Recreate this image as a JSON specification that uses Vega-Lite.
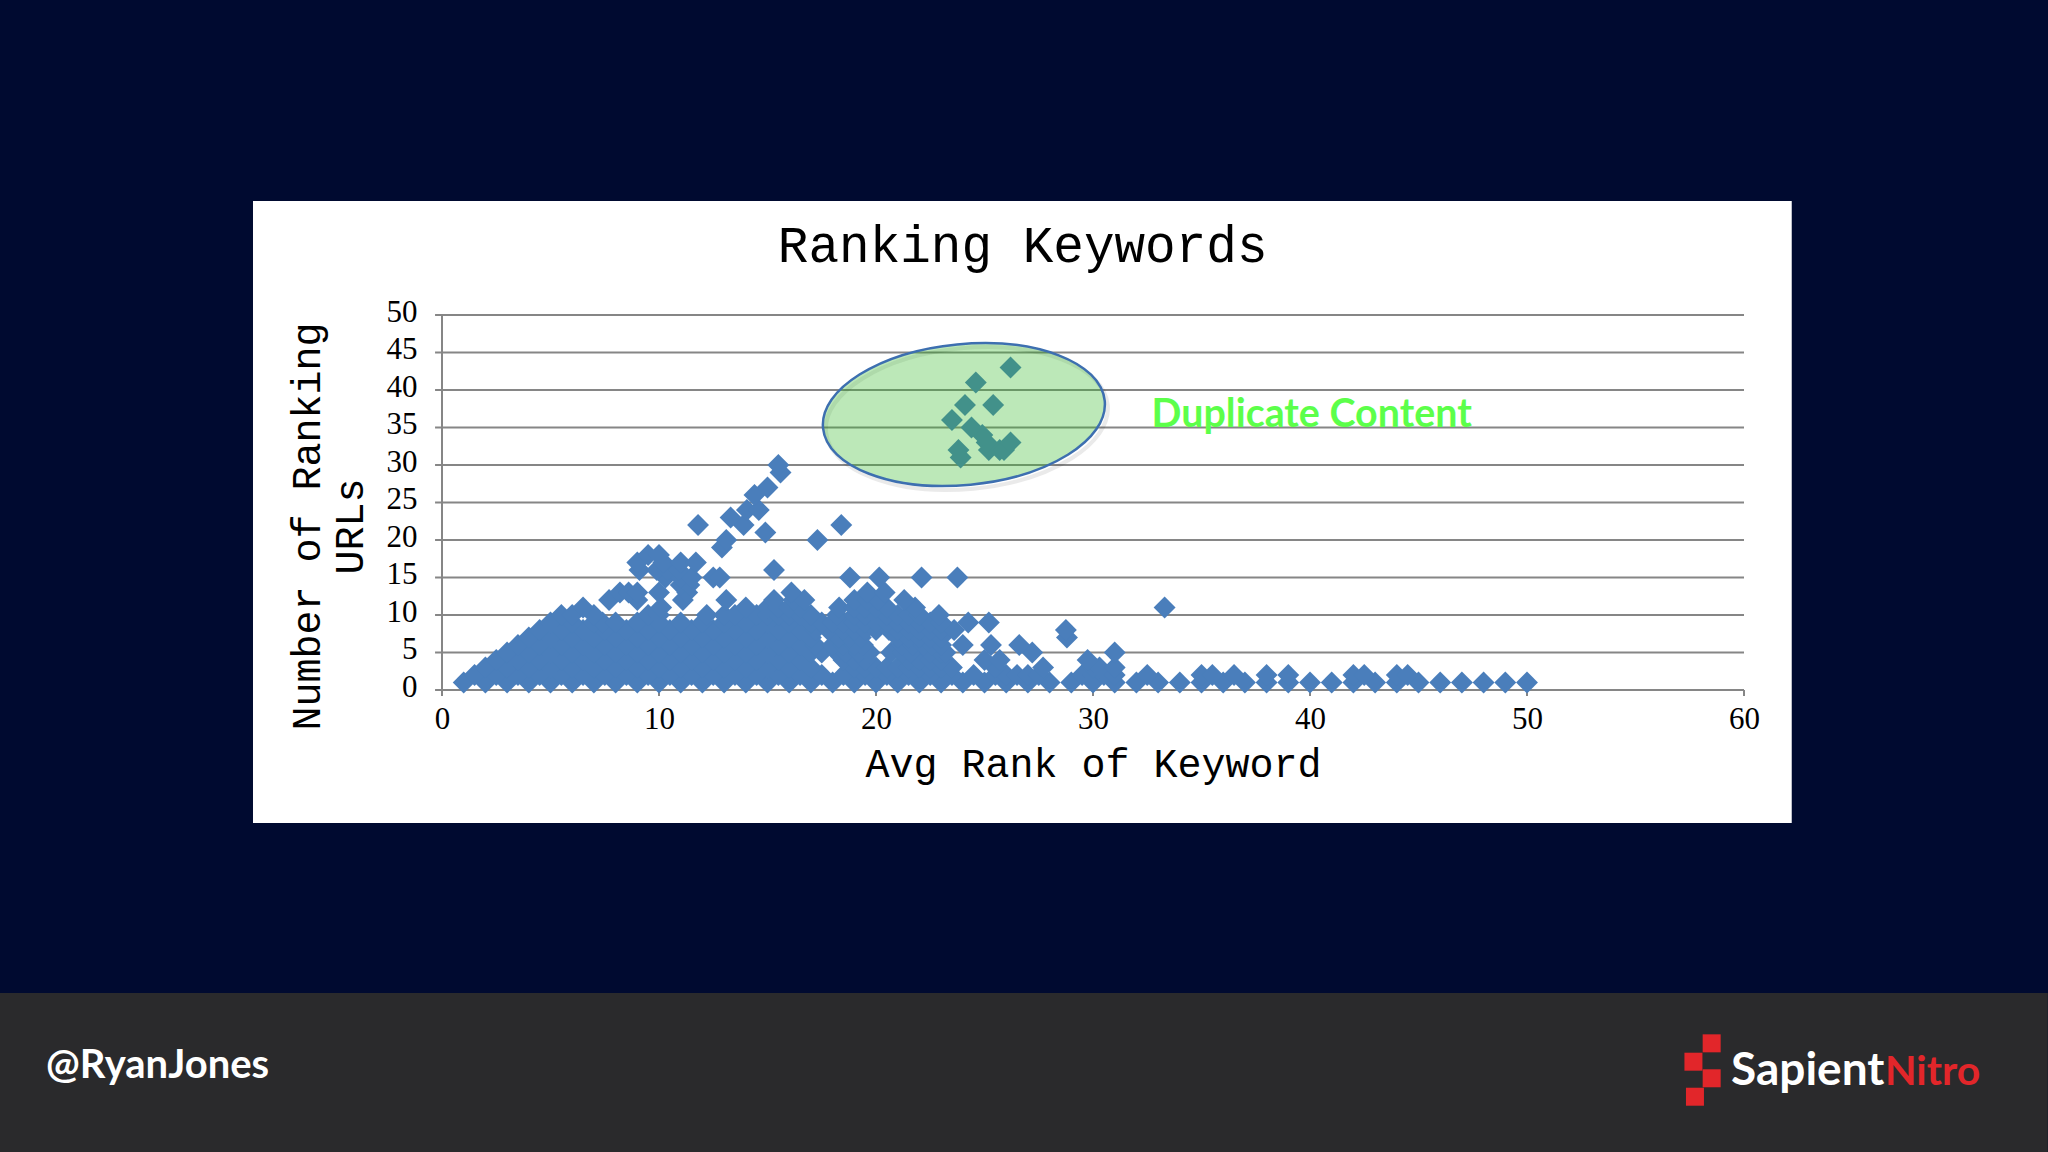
{"$schema":"https://vega.github.io/schema/vega-lite/v6.json","autosize":"none","width":1302,"height":375,"padding":{"left":442,"top":315,"right":304,"bottom":462},"background":"#000a30","view":{"stroke":null},
"encoding":{"x":{"field":"x","type":"quantitative","scale":{"domain":[0,60],"nice":false,"zero":false},"axis":{"values":[0,10,20,30,40,50,60],"grid":false,"domain":false,"ticks":false,"labelFlush":false,"labelFont":"Liberation Serif","labelFontSize":31,"labelColor":"#000000","labelPadding":14,"title":"Avg Rank of Keyword","titleFont":"Liberation Mono","titleFontSize":40,"titleFontWeight":"normal","titleColor":"#000000","titlePadding":10,"zindex":1}},"y":{"field":"y","type":"quantitative","scale":{"domain":[0,50],"nice":false,"zero":false},"axis":{"values":[0,5,10,15,20,25,30,35,40,45,50],"grid":false,"domain":false,"ticks":false,"labelFlush":false,"labelFont":"Liberation Serif","labelFontSize":31,"labelColor":"#000000","labelPadding":25,"labelOffset":-3,"title":["Number of Ranking","URLs"],"titleFont":"Liberation Mono","titleFontSize":40,"titleFontWeight":"normal","titleColor":"#000000","titleLineHeight":43,"titleX":-115,"titleY":211,"zindex":1}}},
"layer":[
{"data":{"values":[{"x":-20.4,"x2":74,"y":-40.4,"y2":-61.6}]},"mark":{"type":"rect","color":"#2a2a2c"},"encoding":{"x2":{"field":"x2"},"y2":{"field":"y2"}}},
{"data":{"values":[{"x":-8.71,"x2":62.2,"y":65.2,"y2":-17.73}]},"mark":{"type":"rect","color":"#ffffff"},"encoding":{"x2":{"field":"x2"},"y2":{"field":"y2"}}},
{"data":{"values":[{"x":-0.32,"x2":60,"y":0},{"x":-0.32,"x2":60,"y":5},{"x":-0.32,"x2":60,"y":10},{"x":-0.32,"x2":60,"y":15},{"x":-0.32,"x2":60,"y":20},{"x":-0.32,"x2":60,"y":25},{"x":-0.32,"x2":60,"y":30},{"x":-0.32,"x2":60,"y":35},{"x":-0.32,"x2":60,"y":40},{"x":-0.32,"x2":60,"y":45},{"x":-0.32,"x2":60,"y":50}]},"mark":{"type":"rule","color":"#868686","strokeWidth":2},"encoding":{"x2":{"field":"x2"}}},
{"data":{"values":[{"x":0,"y":50,"y2":-0.8},{"x":10,"y":0,"y2":-0.8},{"x":20,"y":0,"y2":-0.8},{"x":30,"y":0,"y2":-0.8},{"x":40,"y":0,"y2":-0.8},{"x":50,"y":0,"y2":-0.8},{"x":60,"y":0,"y2":-0.8}]},"mark":{"type":"rule","color":"#868686","strokeWidth":2},"encoding":{"y2":{"field":"y2"}}},
{"data":{"values":[
{"x":1,"y":1},{"x":2,"y":1},{"x":3,"y":1},{"x":4,"y":1},{"x":5,"y":1},{"x":6,"y":1},{"x":7,"y":1},{"x":8,"y":1},{"x":9,"y":1},{"x":10,"y":1},{"x":11,"y":1},{"x":12,"y":1},{"x":13,"y":1},{"x":14,"y":1},{"x":15,"y":1},{"x":16,"y":1},{"x":17,"y":1},{"x":18,"y":1},{"x":19,"y":1},{"x":20,"y":1},{"x":21,"y":1},{"x":22,"y":1},{"x":23,"y":1},{"x":24,"y":1},{"x":25,"y":1},{"x":26,"y":1},{"x":27,"y":1},{"x":28,"y":1},{"x":29,"y":1},{"x":30,"y":1},{"x":31,"y":1},{"x":32,"y":1},{"x":33,"y":1},{"x":34,"y":1},{"x":35,"y":1},{"x":36,"y":1},{"x":37,"y":1},{"x":38,"y":1},{"x":39,"y":1},{"x":40,"y":1},{"x":41,"y":1},{"x":42,"y":1},{"x":43,"y":1},{"x":44,"y":1},{"x":45,"y":1},{"x":46,"y":1},{"x":47,"y":1},{"x":48,"y":1},{"x":49,"y":1},{"x":50,"y":1},
{"x":1.5,"y":2},{"x":2.5,"y":2},{"x":3.5,"y":2},{"x":4.5,"y":2},{"x":5.5,"y":2},{"x":6.5,"y":2},{"x":7.5,"y":2},{"x":8.5,"y":2},{"x":9.5,"y":2},{"x":10.5,"y":2},{"x":11.5,"y":2},{"x":12.5,"y":2},{"x":13.5,"y":2},{"x":14.5,"y":2},{"x":15.5,"y":2},{"x":16.5,"y":2},{"x":17.5,"y":2},{"x":18.5,"y":2},{"x":19.5,"y":2},{"x":20.5,"y":2},{"x":21.5,"y":2},{"x":22.5,"y":2},{"x":23.5,"y":2},{"x":24.5,"y":2},{"x":25.5,"y":2},{"x":26,"y":2},{"x":26.5,"y":2},{"x":27,"y":2},{"x":27.5,"y":2},{"x":29.5,"y":2},{"x":30,"y":2},{"x":30.5,"y":2},{"x":31,"y":2},{"x":32.5,"y":2},{"x":35,"y":2},{"x":35.5,"y":2},{"x":36.5,"y":2},{"x":38,"y":2},{"x":39,"y":2},{"x":42,"y":2},{"x":42.5,"y":2},{"x":44,"y":2},{"x":44.5,"y":2},
{"x":2,"y":3},{"x":3,"y":3},{"x":4,"y":3},{"x":5,"y":3},{"x":6,"y":3},{"x":7,"y":3},{"x":8,"y":3},{"x":9,"y":3},{"x":10,"y":3},{"x":11,"y":3},{"x":12,"y":3},{"x":13,"y":3},{"x":14,"y":3},{"x":15,"y":3},{"x":16,"y":3},{"x":17,"y":3},{"x":19,"y":3},{"x":19.5,"y":3},{"x":20,"y":3},{"x":20.5,"y":3},{"x":21,"y":3},{"x":21.5,"y":3},{"x":22,"y":3},{"x":22.5,"y":3},{"x":23,"y":3},{"x":23.5,"y":3},{"x":25.5,"y":3},{"x":27.7,"y":3},{"x":30,"y":3},{"x":30.3,"y":3},{"x":31,"y":3},
{"x":2.5,"y":4},{"x":3.5,"y":4},{"x":4.5,"y":4},{"x":5.5,"y":4},{"x":6.5,"y":4},{"x":7.5,"y":4},{"x":8.5,"y":4},{"x":9.5,"y":4},{"x":10.5,"y":4},{"x":11.5,"y":4},{"x":12.5,"y":4},{"x":13.5,"y":4},{"x":14.5,"y":4},{"x":15.5,"y":4},{"x":16.5,"y":4},{"x":18.5,"y":4},{"x":19,"y":4},{"x":19.5,"y":4},{"x":21.5,"y":4},{"x":22,"y":4},{"x":22.5,"y":4},{"x":23,"y":4},{"x":25,"y":4},{"x":25.7,"y":4},{"x":29.75,"y":4},
{"x":3,"y":5},{"x":4,"y":5},{"x":5,"y":5},{"x":6,"y":5},{"x":7,"y":5},{"x":8,"y":5},{"x":9,"y":5},{"x":10,"y":5},{"x":11,"y":5},{"x":12,"y":5},{"x":13,"y":5},{"x":14,"y":5},{"x":15,"y":5},{"x":16,"y":5},{"x":17,"y":5},{"x":17.5,"y":5},{"x":18.2,"y":5},{"x":18.6,"y":5},{"x":19.2,"y":5},{"x":19.7,"y":5},{"x":20.7,"y":5},{"x":21.2,"y":5},{"x":21.6,"y":5},{"x":22.5,"y":5},{"x":23,"y":5},{"x":23.2,"y":5},{"x":27.2,"y":5},{"x":31,"y":5},
{"x":3.5,"y":6},{"x":4.5,"y":6},{"x":5.5,"y":6},{"x":6.5,"y":6},{"x":7.5,"y":6},{"x":8.5,"y":6},{"x":9.5,"y":6},{"x":10.5,"y":6},{"x":11.5,"y":6},{"x":12.5,"y":6},{"x":13.5,"y":6},{"x":14.5,"y":6},{"x":15.5,"y":6},{"x":16.5,"y":6},{"x":17.2,"y":6},{"x":18,"y":6},{"x":18.5,"y":6},{"x":19,"y":6},{"x":19.4,"y":6},{"x":21.2,"y":6},{"x":21.7,"y":6},{"x":22.2,"y":6},{"x":22.6,"y":6},{"x":23,"y":6},{"x":24,"y":6},{"x":25.3,"y":6},{"x":26.6,"y":6},
{"x":4,"y":7},{"x":5,"y":7},{"x":6,"y":7},{"x":7,"y":7},{"x":8,"y":7},{"x":9,"y":7},{"x":10,"y":7},{"x":11,"y":7},{"x":12,"y":7},{"x":13,"y":7},{"x":14,"y":7},{"x":15,"y":7},{"x":16,"y":7},{"x":17,"y":7},{"x":18.3,"y":7},{"x":18.8,"y":7},{"x":19.3,"y":7},{"x":21,"y":7},{"x":21.5,"y":7},{"x":22,"y":7},{"x":22.5,"y":7},{"x":23,"y":7},{"x":28.8,"y":7},
{"x":4.5,"y":8},{"x":5.5,"y":8},{"x":6.5,"y":8},{"x":7.5,"y":8},{"x":8.5,"y":8},{"x":9.5,"y":8},{"x":10.5,"y":8},{"x":11.5,"y":8},{"x":12.5,"y":8},{"x":13.5,"y":8},{"x":14.5,"y":8},{"x":15.5,"y":8},{"x":16.5,"y":8},{"x":17.2,"y":8},{"x":17.8,"y":8},{"x":18.5,"y":8},{"x":19,"y":8},{"x":19.5,"y":8},{"x":20,"y":8},{"x":20.6,"y":8},{"x":21,"y":8},{"x":21.5,"y":8},{"x":22,"y":8},{"x":22.5,"y":8},{"x":23,"y":8},{"x":23.6,"y":8},{"x":28.75,"y":8},
{"x":5,"y":9},{"x":6,"y":9},{"x":7,"y":9},{"x":7.4,"y":9},{"x":8,"y":9},{"x":9,"y":9},{"x":10,"y":9},{"x":11,"y":9},{"x":12,"y":9},{"x":13,"y":9},{"x":14,"y":9},{"x":15,"y":9},{"x":16,"y":9},{"x":17,"y":9},{"x":17.5,"y":9},{"x":18,"y":9},{"x":18.5,"y":9},{"x":19,"y":9},{"x":19.5,"y":9},{"x":20,"y":9},{"x":20.5,"y":9},{"x":21,"y":9},{"x":21.5,"y":9},{"x":22,"y":9},{"x":22.5,"y":9},{"x":23,"y":9},{"x":24.25,"y":9},{"x":25.2,"y":9},
{"x":5.5,"y":10},{"x":6,"y":10},{"x":7,"y":10},{"x":9.5,"y":10},{"x":10,"y":10},{"x":12.2,"y":10},{"x":13,"y":10},{"x":13.5,"y":10},{"x":14.5,"y":10},{"x":15,"y":10},{"x":15.5,"y":10},{"x":16,"y":10},{"x":16.5,"y":10},{"x":17,"y":10},{"x":18.2,"y":10},{"x":19,"y":10},{"x":19.5,"y":10},{"x":20,"y":10},{"x":20.5,"y":10},{"x":21,"y":10},{"x":21.5,"y":10},{"x":22,"y":10},{"x":22.9,"y":10},
{"x":6.5,"y":11},{"x":10.1,"y":11},{"x":14,"y":11},{"x":15,"y":11},{"x":15.5,"y":11},{"x":16,"y":11},{"x":16.5,"y":11},{"x":18.3,"y":11},{"x":19,"y":11},{"x":19.5,"y":11},{"x":20,"y":11},{"x":20.5,"y":11},{"x":21.8,"y":11},{"x":33.3,"y":11},
{"x":7.7,"y":12},{"x":9,"y":12},{"x":11.1,"y":12},{"x":13.1,"y":12},{"x":15.3,"y":12},{"x":16.2,"y":12},{"x":16.7,"y":12},{"x":19,"y":12},{"x":19.6,"y":12},{"x":20.1,"y":12},{"x":21.3,"y":12},
{"x":8.2,"y":13},{"x":8.6,"y":13},{"x":9,"y":13},{"x":10,"y":13},{"x":11.3,"y":13},{"x":16.1,"y":13},{"x":19.6,"y":13},{"x":20.4,"y":13},
{"x":11,"y":14},{"x":11.4,"y":14},
{"x":10.3,"y":15},{"x":11,"y":15},{"x":11.5,"y":15},{"x":12.5,"y":15},{"x":12.8,"y":15},{"x":18.8,"y":15},{"x":20.15,"y":15},{"x":22.1,"y":15},{"x":23.75,"y":15},
{"x":9.1,"y":16},{"x":9.9,"y":16},{"x":10.4,"y":16},{"x":10.9,"y":16},{"x":15.3,"y":16},
{"x":9,"y":17},{"x":10.2,"y":17},{"x":11,"y":17},{"x":11.7,"y":17},{"x":9.5,"y":18},{"x":10,"y":18},
{"x":12.9,"y":19},{"x":13.1,"y":20},{"x":17.3,"y":20},{"x":14.9,"y":21},{"x":11.8,"y":22},{"x":13.9,"y":22},{"x":18.4,"y":22},{"x":13.3,"y":23},{"x":14.05,"y":24},{"x":14.6,"y":24},{"x":14.4,"y":26},{"x":15,"y":27},{"x":15.6,"y":29},{"x":15.5,"y":30},
{"x":23.9,"y":31},{"x":23.8,"y":32},{"x":25.2,"y":32},{"x":25.7,"y":32},{"x":25.9,"y":32},{"x":25.1,"y":33},{"x":26.2,"y":33},{"x":24.9,"y":34},{"x":24.4,"y":35},{"x":23.5,"y":36},{"x":24.1,"y":38},{"x":25.4,"y":38},{"x":24.6,"y":41},{"x":26.2,"y":43}
]},"mark":{"type":"point","shape":"diamond","filled":true,"opacity":1,"size":480,"color":"#4a7ebb"}},
{"data":{"values":[{"x":24.05,"y":36.73}]},"mark":{"type":"point","shape":"M-1,0A1,0.498 0 1 1 1,0A1,0.498 0 1 1 -1,0Z","filled":false,"size":80089,"angle":-5.5,"stroke":"#000000","strokeWidth":4,"opacity":0.08,"xOffset":3,"yOffset":4}},
{"data":{"values":[{"x":24.05,"y":36.73}]},"mark":{"type":"point","shape":"M-1,0A1,0.498 0 1 1 1,0A1,0.498 0 1 1 -1,0Z","filled":true,"size":80089,"angle":-5.5,"fill":"#34b928","fillOpacity":0.33,"stroke":"#3d6fb0","strokeOpacity":1,"strokeWidth":2.5}},
{"data":{"values":[{"x":58.51,"y":-47.11},{"x":57.67,"y":-49.56},{"x":58.51,"y":-51.77},{"x":57.74,"y":-54.23}]},"mark":{"type":"point","shape":"square","filled":true,"opacity":1,"size":324,"color":"#e2262a"}},
{"data":{"values":[{"x":-18.25,"y":-51.7,"label":"@RyanJones"}]},"mark":{"type":"text","font":"Lato","fontWeight":"bold","align":"left","baseline":"alphabetic","fontSize":40,"color":"#ffffff"},"encoding":{"text":{"field":"label"}}},
{"data":{"values":[{"x":59.4,"y":-52.6,"label":"Sapient"}]},"mark":{"type":"text","font":"Lato","fontWeight":"bold","align":"left","baseline":"alphabetic","fontSize":46,"color":"#ffffff"},"encoding":{"text":{"field":"label"}}},
{"data":{"values":[{"x":66.5,"y":-52.6,"label":"Nitro"}]},"mark":{"type":"text","font":"Lato","fontWeight":"bold","align":"left","baseline":"alphabetic","fontSize":41,"color":"#e2262a"},"encoding":{"text":{"field":"label"}}},
{"data":{"values":[{"x":32.7,"y":35.07,"label":"Duplicate Content"}]},"mark":{"type":"text","font":"Lato","fontWeight":"bold","align":"left","baseline":"alphabetic","fontSize":39.4,"color":"#5cff4a"},"encoding":{"text":{"field":"label"}}},
{"data":{"values":[{"x":26.76,"y":59.07,"label":"Ranking Keywords"}]},"mark":{"type":"text","font":"Liberation Mono","align":"center","baseline":"middle","fontSize":51,"color":"#000000"},"encoding":{"text":{"field":"label"}}}
]}
